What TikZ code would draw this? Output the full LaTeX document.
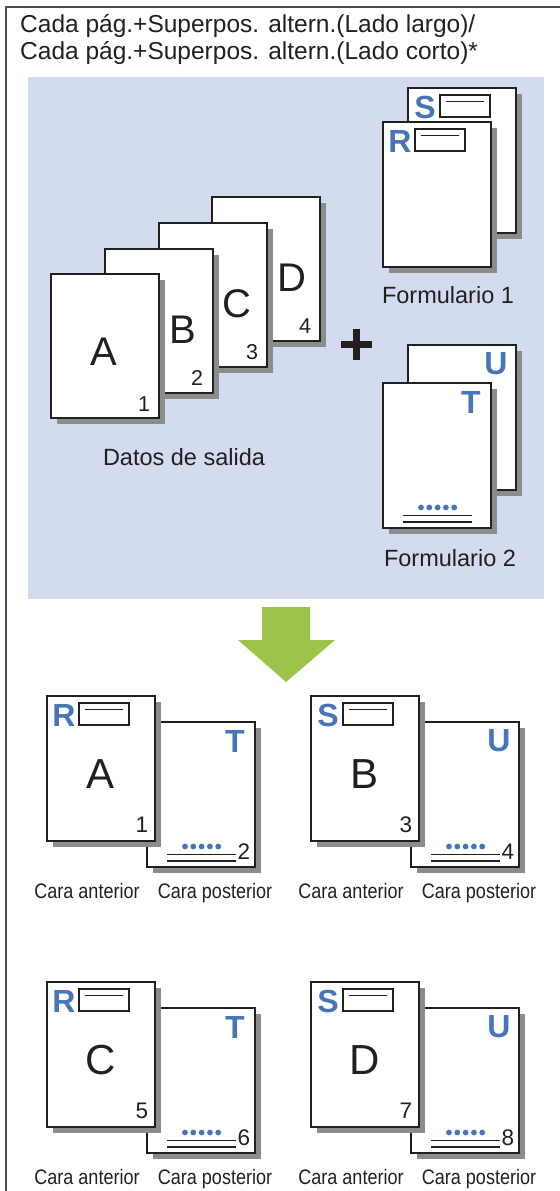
\documentclass[tikz,border=0pt]{standalone}
\usepackage{fontspec}
\setmainfont{Liberation Sans}
\newfontfamily\condfont[FakeStretch=0.86]{Liberation Sans}
\usetikzlibrary{shadows,calc}
\definecolor{panelblue}{RGB}{210,220,238}
\definecolor{ltrblue}{RGB}{72,117,183}
\definecolor{arrowgreen}{RGB}{157,195,76}
\definecolor{shadowgray}{RGB}{140,140,140}
\definecolor{framegray}{RGB}{80,80,80}
\definecolor{ink}{RGB}{35,31,32}
\tikzset{
  page/.style={draw=ink, line width=1.8bp, fill=white, minimum width=108bp, minimum height=145bp,
    inner sep=0pt, outer sep=0pt, anchor=north west,
    drop shadow={shadow xshift=6bp, shadow yshift=-6bp, fill=shadowgray, opacity=1}},
  formbox/.style={draw=ink, line width=1.8bp, fill=white, minimum width=50bp, minimum height=22bp,
    inner sep=0pt, outer sep=0pt, anchor=north west},
  hdr/.style={inner sep=0pt, text=ink, font=\fontsize{24.5bp}{28bp}\selectfont},
  body/.style={inner sep=0pt, text=ink, font=\fontsize{23.5bp}{28bp}\selectfont},
  captxt/.style={inner sep=0pt, text=ink, anchor=base, font=\fontsize{21bp}{24bp}\selectfont\condfont},
  bigltr/.style={inner sep=0pt, text=ink, font=\fontsize{40bp}{44bp}\selectfont},
  resltr/.style={inner sep=0pt, text=ink, font=\fontsize{42bp}{46bp}\selectfont},
  num/.style={inner sep=0pt, text=ink, font=\fontsize{21.5bp}{24bp}\selectfont},
  resnum/.style={inner sep=0pt, text=ink, font=\fontsize{22.5bp}{24bp}\selectfont},
  blueltr/.style={inner sep=0pt, text=ltrblue, font=\fontsize{32bp}{34bp}\selectfont\bfseries},
  rule/.style={draw=ink, line width=1.5bp},
  dot/.style={fill=ltrblue}
}
% form content helpers
\newcommand\formtop[2]{% #1 page name, #2 letter
  \node[blueltr] (#1L) at ($(#1.north west)+(17,19)$) {#2};
  \node[formbox] (#1box) at ($(#1.north west)+(32,7)$) {};
  \draw[rule] ($(#1box.north west)+(6,6.5)$) -- ($(#1box.north east)+(-6,6.5)$);
}
\newcommand\formbottom[2]{% #1 page name, #2 letter
  \node[blueltr] (#1L) at ($(#1.north west)+(88,19)$) {#2};
  \foreach \i in {0,...,4} {\fill[dot] ($(#1.north west)+(38+8.3*\i,124.5)$) circle (2.9bp);}
  \draw[rule] ($(#1.north west)+(20,132.5)$) -- ($(#1.north west)+(89,132.5)$);
  \draw[rule] ($(#1.north west)+(20,139)$) -- ($(#1.north west)+(89,139)$);
}
\newcommand\rpair[8]{% #1 x, #2 y, #3 prefix, #4 top letter, #5 big letter, #6 front num, #7 bottom letter, #8 back num
  \node[page] (#3b) at (#1+100,#2+26) {};
  \formbottom{#3b}{#7}
  \node[resnum] (#3bn) at ($(#3b.north west)+(97,130)$) {#8};
  \node[page] (#3f) at (#1,#2) {};
  \formtop{#3f}{#4}
  \node[resltr] (#3fl) at ($(#3f.north west)+(54,78)$) {#5};
  \node[resnum] (#3fn) at ($(#3f.north west)+(95,129)$) {#6};
  \node[captxt] (#3ca) at (#1+40,#2+202) {Cara anterior};
  \node[captxt] (#3cp) at (#1+168,#2+202) {Cara posterior};
}
\begin{document}
\begin{tikzpicture}[x=1bp,y=-1bp]
\useasboundingbox (0,0) rectangle (560,1191);
\draw[framegray, line width=2bp] (560,7) -- (6,7) -- (6,1191);
\node[hdr, anchor=base west] (h1) at (20,32) {Cada pág.+Superpos. altern.(Lado largo)/};
\node[hdr, anchor=base west] (h2) at (20,59) {Cada pág.+Superpos. altern.(Lado corto)*};
\node[fill=panelblue, draw=none, minimum width=516bp, minimum height=522bp, inner sep=0pt, anchor=north west] (panel) at (28,77) {};
% output data
\node[page, minimum height=144bp] (pD) at (212,197) {};
\node[bigltr] (lD) at ($(pD.north west)+(80,81)$) {D};
\node[num] (nD) at ($(pD.north west)+(93,129)$) {4};
\node[page, minimum height=144bp] (pC) at (159,223) {};
\node[bigltr] (lC) at ($(pC.north west)+(78,81)$) {C};
\node[num] (nC) at ($(pC.north west)+(93,129)$) {3};
\node[page, minimum height=144bp] (pB) at (105,249) {};
\node[bigltr] (lB) at ($(pB.north west)+(78,81)$) {B};
\node[num] (nB) at ($(pB.north west)+(92,129)$) {2};
\node[page, minimum height=144bp] (pA) at (51,274) {};
\node[bigltr] (lA) at ($(pA.north west)+(53,78)$) {A};
\node[num] (nA) at ($(pA.north west)+(93,130)$) {1};
\node[body, anchor=base] (datos) at (184,465) {Datos de salida};
% plus
\draw[ink, line width=7bp] (340.5,344) -- (371.5,344) (356,328.5) -- (356,359.5);
% formulario 1
\node[page] (fS) at (408,88) {};
\formtop{fS}{S}
\node[page] (fR) at (383,122) {};
\formtop{fR}{R}
\node[body, anchor=base] (form1) at (448,303) {Formulario 1};
% formulario 2
\node[page] (fU) at (408,345) {};
\formbottom{fU}{U}
\node[page] (fT) at (383,383) {};
\formbottom{fT}{T}
\node[body, anchor=base] (form2) at (450,566) {Formulario 2};
% arrow
\fill[arrowgreen] (262,607) -- (310,607) -- (310,640) -- (335,640) -- (286,682) -- (238,640) -- (262,640) -- cycle;
% results
\rpair{47}{696}{g1}{R}{A}{1}{T}{2}
\rpair{311}{696}{g2}{S}{B}{3}{U}{4}
\rpair{47}{982}{g3}{R}{C}{5}{T}{6}
\rpair{311}{982}{g4}{S}{D}{7}{U}{8}
\end{tikzpicture}
\end{document}
